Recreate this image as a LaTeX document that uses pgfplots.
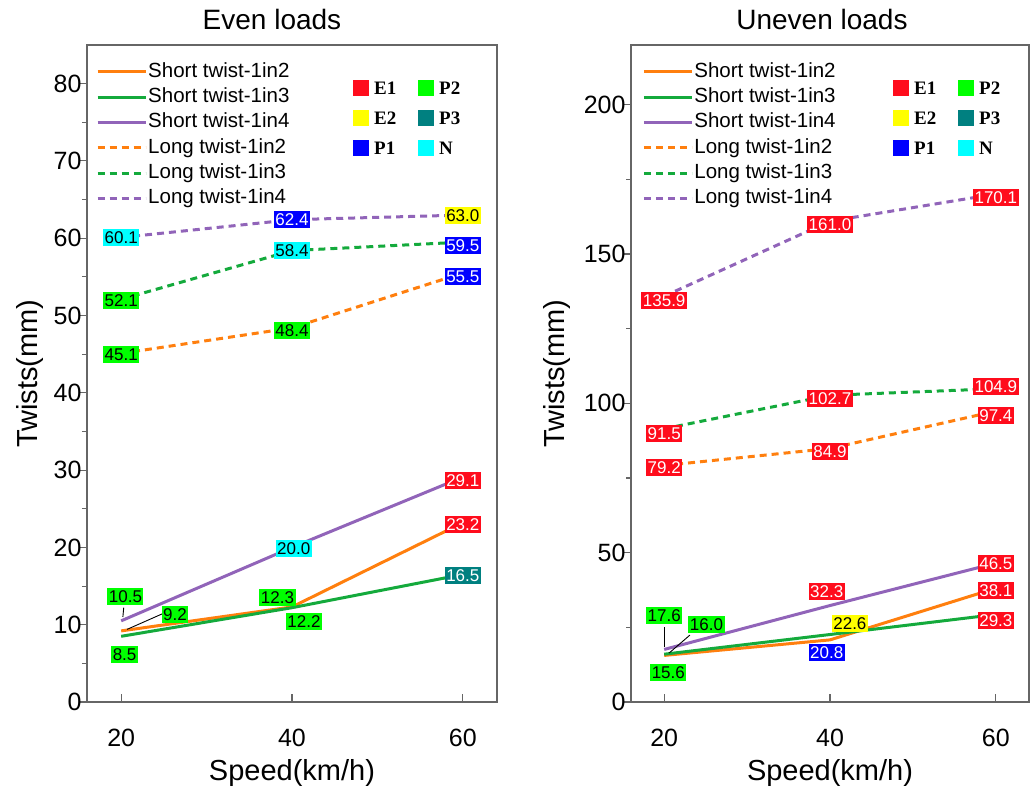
\documentclass[border=0pt]{standalone}
\usepackage{fontspec}
\setmainfont{Liberation Sans}
\newfontfamily\tnr{Liberation Serif}
\usepackage{pgfplots}
\usepackage{pgfplotstable}
\pgfplotsset{compat=1.18}

\definecolor{lineO}{RGB}{255,127,14}
\definecolor{lineG}{RGB}{20,170,60}
\definecolor{lineP}{RGB}{145,100,185}
\definecolor{cE1}{RGB}{255,12,28}
\definecolor{cE2}{RGB}{255,255,0}
\definecolor{cP1}{RGB}{0,0,255}
\definecolor{cP2}{RGB}{0,255,0}
\definecolor{cP3}{RGB}{0,128,128}
\definecolor{cN}{RGB}{0,255,255}

\pgfplotsset{
  panel/.style={
    scale only axis, height=657pt,
    xmin=16, xmax=64, xtick={20,40,60}, minor x tick num=0,
    minor y tick num=1,
    tick pos=left, tick align=inside,
    major tick length=8pt, minor tick length=5pt,
    every major y tick/.append style={xshift=-8pt},
    every minor y tick/.append style={xshift=-5pt},
    axis line style={black!60, line width=1.1pt},
    tick style={black!60, line width=1.1pt},
    /pgf/number format/assume math mode=true,
    tick label style={font=\fontsize{25}{25}\selectfont, black},
    xticklabel style={anchor=base, yshift=-44pt},
    yticklabel style={xshift=-2pt},
    xlabel={Speed(km/h)}, ylabel={Twists(mm)},
    label style={font=\fontsize{29}{29}\selectfont},
    title style={font=\fontsize{28}{28}\selectfont, anchor=base, yshift=9pt},
    clip=false,
    legend cell align=left,
    legend style={draw=none, fill=none, inner sep=0pt, row sep=4.8pt,
      font=\fontsize{20.5}{20.5}\selectfont,
      nodes={inner sep=1pt, text height=14.5pt, text depth=4pt},
      anchor=north west},
    legend image code/.code={\draw[##1] (0pt,0pt) -- (48pt,0pt);},
  },
  sline/.style={color=#1, line width=3pt},
  lline/.style={color=#1, line width=3pt, dash pattern=on 7pt off 5pt},
  lab/.style 2 args={draw=none, forget plot, nodes near coords,
    point meta=explicit symbolic,
    nodes near coords style={fill=#1, text=#2, anchor=center,
      inner xsep=1.5pt, inner ysep=2pt, text height=12.5pt, text depth=0.5pt,
      font=\fontsize{17}{17}\selectfont}},
  lead/.style={black, line width=0.9pt, forget plot},
}

\newcommand\sqleg[2]{%
  \foreach \c/\t/\cx/\dy in {cE1/E1/0/43, cE2/E2/0/73, cP1/P1/0/103,
                              cP2/P2/65/43, cP3/P3/65/73, cN/N/65/103}{
    \fill[\c] ([shift={(#2pt+\cx pt-8pt,-\dy pt-8pt)}]#1.north west) rectangle ++(16pt,16pt);
    \node[anchor=west, inner sep=0pt, font=\tnr\bfseries\fontsize{19}{19}\selectfont]
      at ([shift={(#2pt+\cx pt+13pt,-\dy pt)}]#1.north west) {\t};
  }}

\begin{document}
\begin{tikzpicture}
% ---------------- Even loads ----------------
\begin{axis}[panel, name=L, width=410pt,
    ymin=0, ymax=85, ytick={0,10,...,80},
    title={Even loads},
    title style={at={(axis description cs:0.5,1)}, xshift=-20pt},
    ylabel style={at={(axis description cs:-0.139,0.5)}, anchor=center},
    xlabel style={at={(axis description cs:0.5,-0.108)}, anchor=center},
    legend style={at={(0.022,0.975)}}]
\addplot[sline=lineO] coordinates {(20,9.2)(40,12.3)(60,23.2)};
\addlegendentry{Short twist-1in2}
\addplot[sline=lineG] coordinates {(20,8.5)(40,12.2)(60,16.5)};
\addlegendentry{Short twist-1in3}
\addplot[sline=lineP] coordinates {(20,10.5)(40,20.0)(60,29.1)};
\addlegendentry{Short twist-1in4}
\addplot[lline=lineO] coordinates {(20,45.1)(40,48.4)(60,55.5)};
\addlegendentry{Long twist-1in2}
\addplot[lline=lineG] coordinates {(20,52.1)(40,58.4)(60,59.5)};
\addlegendentry{Long twist-1in3}
\addplot[lline=lineP] coordinates {(20,60.1)(40,62.4)(60,63.0)};
\addlegendentry{Long twist-1in4}
% leader lines
\addplot[lead] coordinates {(20.3,12.2)(20.2,11.0)};
\addplot[lead] coordinates {(20.7,9.4)(24.8,11.4)};
% value labels
\addplot[lab={cN}{black}] table[meta=l]{
x y l
20 60.1 60.1
40 58.4 58.4
40.2 19.8 20.0
};
\addplot[lab={cP1}{white}] table[meta=l]{
x y l
40 62.4 62.4
60 59.0 59.5
60 55.0 55.5
};
\addplot[lab={cE2}{black}] table[meta=l]{
x y l
60 63.0 63.0
};
\addplot[lab={cP2}{black}] table[meta=l]{
x y l
20 52.0 52.1
20 44.9 45.1
40 48.1 48.4
20.5 13.7 10.5
26.3 11.3 9.2
20.4 6.2 8.5
38.3 13.5 12.3
41.4 10.4 12.2
};
\addplot[lab={cE1}{white}] table[meta=l]{
x y l
60 28.7 29.1
60 22.9 23.2
};
\addplot[lab={cP3}{white}] table[meta=l]{
x y l
60 16.4 16.5
};
\end{axis}

% ---------------- Uneven loads ----------------
\begin{axis}[panel, name=R, at={(544pt,0pt)}, width=398pt,
    ymin=0, ymax=220, ytick={0,50,...,200},
    title={Uneven loads},
    title style={at={(axis description cs:0.5,1)}, xshift=-8pt},
    ylabel style={at={(axis description cs:-0.186,0.5)}, anchor=center},
    xlabel style={at={(axis description cs:0.5,-0.108)}, anchor=center},
    legend style={at={(0.028,0.975)}}]
\addplot[sline=lineO] coordinates {(20,15.6)(40,20.8)(60,38.1)};
\addlegendentry{Short twist-1in2}
\addplot[sline=lineG] coordinates {(20,16.0)(40,22.6)(60,29.3)};
\addlegendentry{Short twist-1in3}
\addplot[sline=lineP] coordinates {(20,17.6)(40,32.3)(60,46.5)};
\addlegendentry{Short twist-1in4}
\addplot[lline=lineO] coordinates {(20,79.2)(40,84.9)(60,97.4)};
\addlegendentry{Long twist-1in2}
\addplot[lline=lineG] coordinates {(20,91.5)(40,102.7)(60,104.9)};
\addlegendentry{Long twist-1in3}
\addplot[lline=lineP] coordinates {(20,135.9)(40,161.0)(60,170.1)};
\addlegendentry{Long twist-1in4}
% leader lines
\addplot[lead] coordinates {(20,18.4)(20,25.1)};
\addplot[lead] coordinates {(20.6,16.4)(23.1,22.4)};
% value labels
\addplot[lab={cE1}{white}] table[meta=l]{
x y l
20 134.5 135.9
40 159.8 161.0
60 169.0 170.1
20 90.0 91.5
40 101.5 102.7
60 105.5 104.9
20 78.6 79.2
40 83.8 84.9
60 95.8 97.4
39.6 37.1 32.3
60 46.5 46.5
60 37.3 38.1
60 27.4 29.3
};
\addplot[lab={cP2}{black}] table[meta=l]{
x y l
20 28.8 17.6
25.1 25.8 16.0
20.5 10.0 15.6
};
\addplot[lab={cE2}{black}] table[meta=l]{
x y l
42.4 26.4 22.6
};
\addplot[lab={cP1}{white}] table[meta=l]{
x y l
39.6 16.7 20.8
};
\end{axis}

\sqleg{L}{274}
\sqleg{R}{270}
% page frame with the reference's proportions
\path ([shift={(-87pt,-88pt)}]L.south west) rectangle ++(1030pt,790pt);
\end{tikzpicture}
\end{document}
